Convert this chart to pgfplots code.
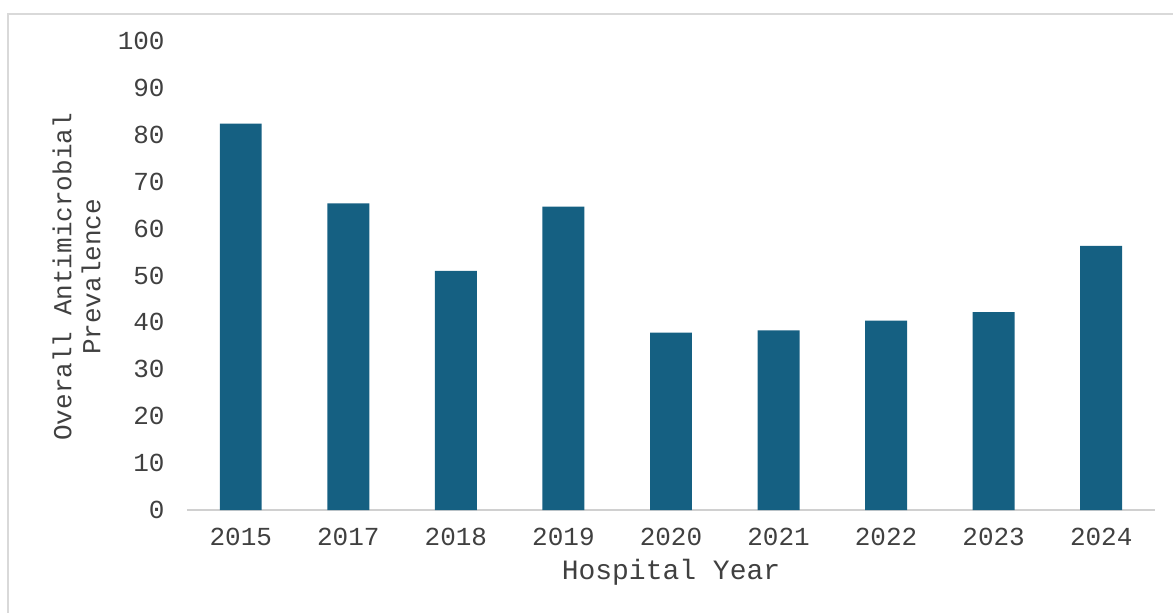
\documentclass[border=0pt]{standalone}
\usepackage{pgfplots}
\pgfplotsset{compat=1.18}
\usepackage{fontspec}
\setmainfont{Liberation Mono}
\definecolor{barc}{HTML}{156082}
\definecolor{txt}{HTML}{404040}
\definecolor{axl}{HTML}{D0D0D0}
\definecolor{frm}{HTML}{D9D9D9}
\begin{document}
\begin{tikzpicture}
\path[use as bounding box] (-93.5bp,-51.5bp) rectangle (493bp,255bp);
\draw[frm, line width=1.2bp] (-89.5bp,-60bp) -- (-89.5bp,248bp) -- (500bp,248bp);
\begin{axis}[
  at={(0,0)}, anchor=south west,
  scale only axis,
  width=484bp, height=234.5bp,
  xmin=-0.5, xmax=8.5, ymin=0, ymax=100,
  axis x line*=bottom, axis y line*=left,
  x axis line style={draw=axl, line width=1bp, -},
  y axis line style={draw=none, -},
  ytick={0,10,...,100},
  xtick={0,...,8},
  xticklabels={2015,2017,2018,2019,2020,2021,2022,2023,2024},
  major tick length=0pt,
  /pgf/number format/assume math mode=true,
  tick label style={font=\fontsize{13bp}{15bp}\selectfont, text=txt},
  y tick label style={anchor=east, inner sep=0pt, xshift=-11bp},
  x tick label style={anchor=north, inner sep=0pt, yshift=-9bp},
  ytick style={draw=none}, xtick style={draw=none},
  xlabel={Hospital Year},
  ylabel={Overall Antimicrobial\\Prevalence},
  xlabel style={at={(axis description cs:0.5,-0.1322)}, anchor=center, font=\fontsize{14bp}{14.5bp}\selectfont, text=txt},
  ylabel style={at={(axis description cs:-0.1141,0.497)}, anchor=center, align=center, font=\fontsize{13bp}{14.5bp}\selectfont, text=txt},
  clip=false,
]
\addplot[ybar, bar width=0.39, fill=barc, draw=none] coordinates {
(0,82.4) (1,65.4) (2,51.0) (3,64.7) (4,37.8) (5,38.3) (6,40.4) (7,42.2) (8,56.3)
};
\end{axis}
\end{tikzpicture}
\end{document}
